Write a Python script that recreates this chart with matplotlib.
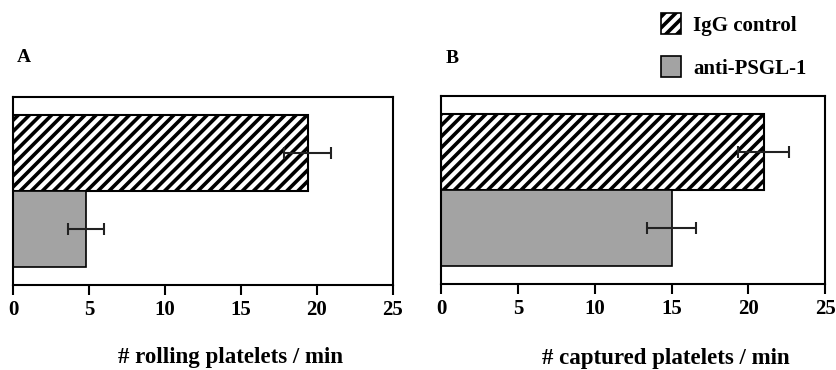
import numpy as np
import matplotlib.pyplot as plt
from matplotlib.patches import Patch

groups = ["IgG control", "anti-PSGL-1"]
rolling = [19.4, 4.8]
rolling_err = [1.55, 1.2]
captured = [21.0, 15.0]
captured_err = [1.65, 1.6]

plt.rcParams['font.family'] = 'Liberation Serif'
plt.rcParams['font.weight'] = 'bold'
plt.rcParams['hatch.linewidth'] = 2.6

gray = '#a3a3a3'
fig = plt.figure(figsize=(8.37, 3.70), dpi=100)
axA = fig.add_axes([0.0155, 0.2297, 0.454, 0.508])
axB = fig.add_axes([0.527, 0.2324, 0.4588, 0.508])


def panel(ax, vals, errs):
    y = [1, 0]
    ax.barh(y[0], vals[0], height=1.0, color='white', edgecolor='black',
            hatch='///', lw=1.5)
    ax.barh(y[1], vals[1], height=1.0, color=gray, edgecolor='black', lw=1.2)
    ax.errorbar(vals, y, xerr=errs, fmt='none', ecolor='#222222',
                elinewidth=1.5, capsize=4, capthick=1.5)
    ax.set_xlim(0, 25)
    ax.set_ylim(-0.74, 1.74)
    ax.set_yticks([])
    ax.set_xticks(np.arange(0, 26, 5))
    ax.tick_params(axis='x', direction='out', length=7, width=1.5,
                   labelsize=15, pad=4)
    for s in ax.spines.values():
        s.set_linewidth(1.5)


panel(axA, rolling, rolling_err)
panel(axB, captured, captured_err)

fig.text(0.02, 0.845, "A", fontsize=14, fontweight='bold', va='center')
fig.text(0.533, 0.843, "B", fontsize=14, fontweight='bold', va='center')
fig.text(0.275, 0.035, "# rolling platelets / min", fontsize=16.5,
         fontweight='bold', ha='center', va='center')
fig.text(0.796, 0.03, "# captured platelets / min", fontsize=16.5,
         fontweight='bold', ha='center', va='center')

handles = [Patch(facecolor='white', edgecolor='black', hatch='///', lw=1.2),
           Patch(facecolor=gray, edgecolor='black', lw=1.2)]
fig.legend(handles, groups, loc='upper left', bbox_to_anchor=(0.767, 1.015),
           frameon=False, fontsize=15, handlelength=0.95, handleheight=1.15,
           labelspacing=1.0, handletextpad=0.6, borderaxespad=0.5)

fig.savefig("out.png", dpi=100)
